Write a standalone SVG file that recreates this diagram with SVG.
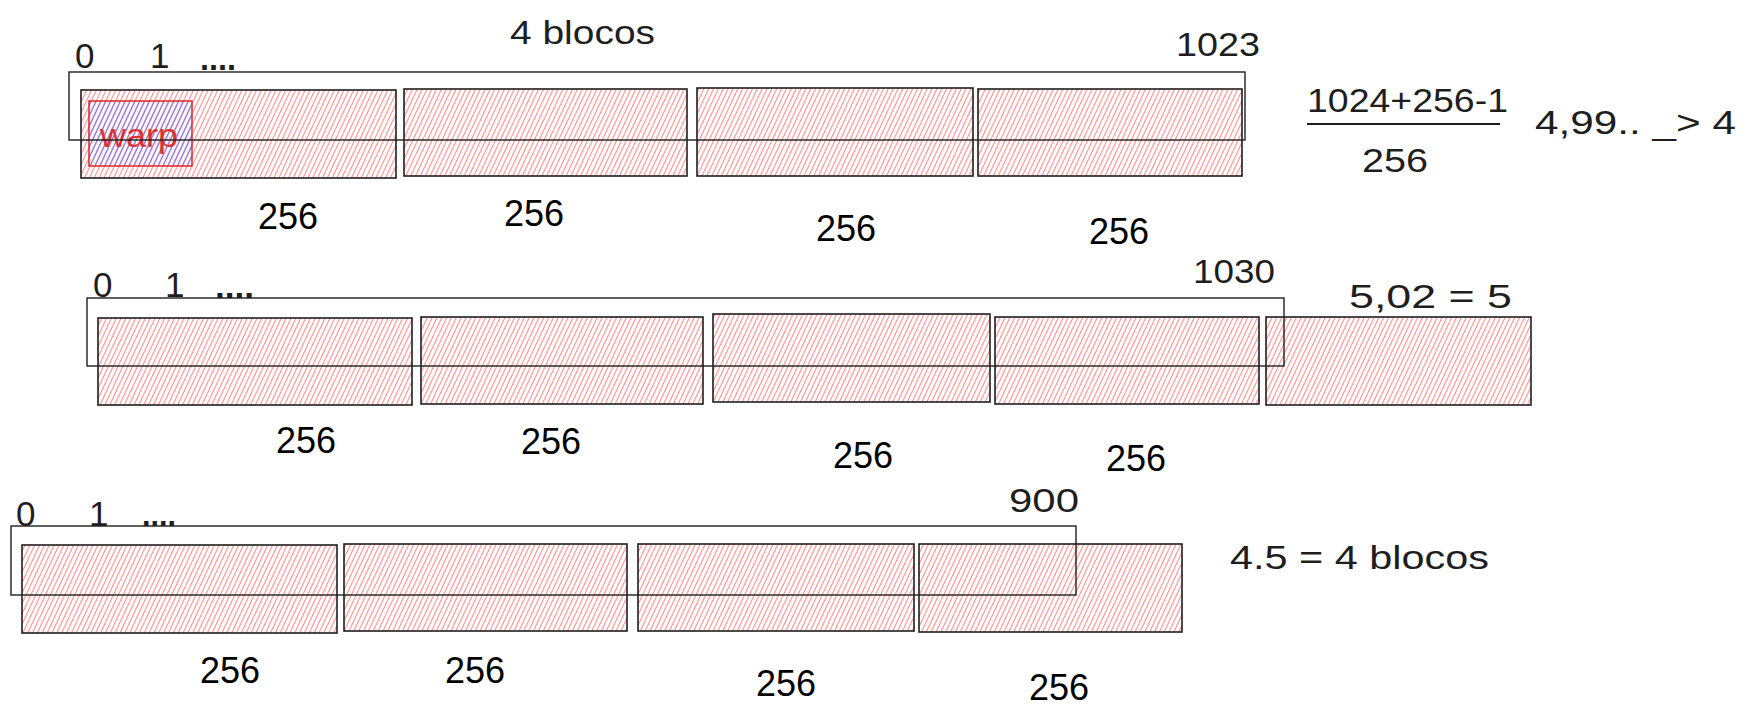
<svg xmlns="http://www.w3.org/2000/svg" width="1748" height="717" viewBox="0 0 1748 717">
<defs>
<pattern id="hatchRed" patternUnits="userSpaceOnUse" width="4.4" height="10" patternTransform="rotate(25)">
<line x1="2.2" y1="-2" x2="2.2" y2="12" stroke="#f66" stroke-width="1.1" stroke-opacity="0.75"/>
</pattern>
<pattern id="hatchBlue" patternUnits="userSpaceOnUse" width="4.4" height="10" patternTransform="rotate(25)">
<line x1="2.2" y1="-2" x2="2.2" y2="12" stroke="#6f6fe8" stroke-width="1.3" stroke-opacity="0.8"/>
</pattern>
</defs>
<style>
.blk{fill:url(#hatchRed);stroke:#1e1e1e;stroke-width:1.6}
.brk{fill:none;stroke:#1e1e1e;stroke-width:1.4}
.hand{font-family:"Liberation Sans",sans-serif;fill:#1e1e1e}
.idx{font-family:"Liberation Sans",sans-serif;fill:#1e1e1e;font-size:35px}
.dots{font-family:"Liberation Sans",sans-serif;fill:#1e1e1e;font-size:34px;font-weight:bold}
.num{font-family:"Liberation Sans",Arial,sans-serif;font-size:36px;fill:#000;text-anchor:middle}
</style>
<rect width="1748" height="717" fill="#fff"/>

<!-- Row 1 -->
<g id="row1">
<g id="r1-b1"><rect class="blk" x="81" y="90" width="315" height="88"/></g>
<g id="r1-b2"><rect class="blk" x="404" y="89" width="283" height="87"/></g>
<g id="r1-b3"><rect class="blk" x="697" y="88" width="276" height="88"/></g>
<g id="r1-b4"><rect class="blk" x="978" y="89" width="264" height="87"/></g>
<g id="r1-warp">
<rect x="89" y="101" width="103" height="65" fill="url(#hatchBlue)" stroke="#e03131" stroke-width="1.6"/>
<text x="100" y="147" font-family="Liberation Sans,sans-serif" font-size="33" fill="#e03131" textLength="78" lengthAdjust="spacingAndGlyphs">warp</text>
</g>
<g id="r1-bracket"><rect class="brk" x="69" y="72" width="1176" height="68"/></g>
<text class="idx" x="75" y="68">0</text>
<text class="idx" x="150" y="68">1</text>
<text class="dots" x="200" y="70" textLength="36" lengthAdjust="spacingAndGlyphs">....</text>
<text class="hand" x="510" y="44" font-size="34" textLength="145" lengthAdjust="spacingAndGlyphs">4 blocos</text>
<text class="hand" x="1176" y="56" font-size="34" textLength="84" lengthAdjust="spacingAndGlyphs">1023</text>
<text class="num" x="288" y="229">256</text>
<text class="num" x="534" y="226">256</text>
<text class="num" x="846" y="241">256</text>
<text class="num" x="1119" y="244">256</text>
</g>

<!-- fraction -->
<g id="fraction">
<text class="hand" x="1307" y="112" font-size="34" textLength="201" lengthAdjust="spacingAndGlyphs">1024+256-1</text>
<line x1="1307" y1="124" x2="1500" y2="124" stroke="#1e1e1e" stroke-width="2"/>
<text class="hand" x="1362" y="172" font-size="34" textLength="66" lengthAdjust="spacingAndGlyphs">256</text>
<text class="hand" x="1535" y="134" font-size="34" textLength="201" lengthAdjust="spacingAndGlyphs">4,99.. _&gt; 4</text>
</g>

<!-- Row 2 -->
<g id="row2">
<g id="r2-b1"><rect class="blk" x="98" y="318" width="314" height="87"/></g>
<g id="r2-b2"><rect class="blk" x="421" y="317" width="282" height="87"/></g>
<g id="r2-b3"><rect class="blk" x="713" y="314" width="277" height="88"/></g>
<g id="r2-b4"><rect class="blk" x="995" y="317" width="264" height="87"/></g>
<g id="r2-b5"><rect class="blk" x="1266" y="317" width="265" height="88"/></g>
<g id="r2-bracket"><rect class="brk" x="87" y="298" width="1197" height="68"/></g>
<text class="idx" x="93" y="297">0</text>
<text class="idx" x="165" y="297">1</text>
<text class="dots" x="215" y="298" textLength="39" lengthAdjust="spacingAndGlyphs">....</text>
<text class="hand" x="1193" y="283" font-size="34" textLength="82" lengthAdjust="spacingAndGlyphs">1030</text>
<text class="hand" x="1349" y="308" font-size="34" textLength="163" lengthAdjust="spacingAndGlyphs">5,02 = 5</text>
<text class="num" x="306" y="453">256</text>
<text class="num" x="551" y="454">256</text>
<text class="num" x="863" y="468">256</text>
<text class="num" x="1136" y="471">256</text>
</g>

<!-- Row 3 -->
<g id="row3">
<g id="r3-b1"><rect class="blk" x="22" y="545" width="315" height="88"/></g>
<g id="r3-b2"><rect class="blk" x="344" y="544" width="283" height="87"/></g>
<g id="r3-b3"><rect class="blk" x="638" y="544" width="276" height="87"/></g>
<g id="r3-b4"><rect class="blk" x="919" y="544" width="263" height="88"/></g>
<g id="r3-bracket"><rect class="brk" x="11" y="526" width="1065" height="69"/></g>
<text class="idx" x="16" y="526">0</text>
<text class="idx" x="89" y="526">1</text>
<text class="dots" x="142" y="526" textLength="34" lengthAdjust="spacingAndGlyphs">....</text>
<text class="hand" x="1009" y="512" font-size="34" textLength="70" lengthAdjust="spacingAndGlyphs">900</text>
<text class="hand" x="1230" y="569" font-size="34" textLength="259" lengthAdjust="spacingAndGlyphs">4.5 = 4 blocos</text>
<text class="num" x="230" y="683">256</text>
<text class="num" x="475" y="683">256</text>
<text class="num" x="786" y="696">256</text>
<text class="num" x="1059" y="700">256</text>
</g>
</svg>
